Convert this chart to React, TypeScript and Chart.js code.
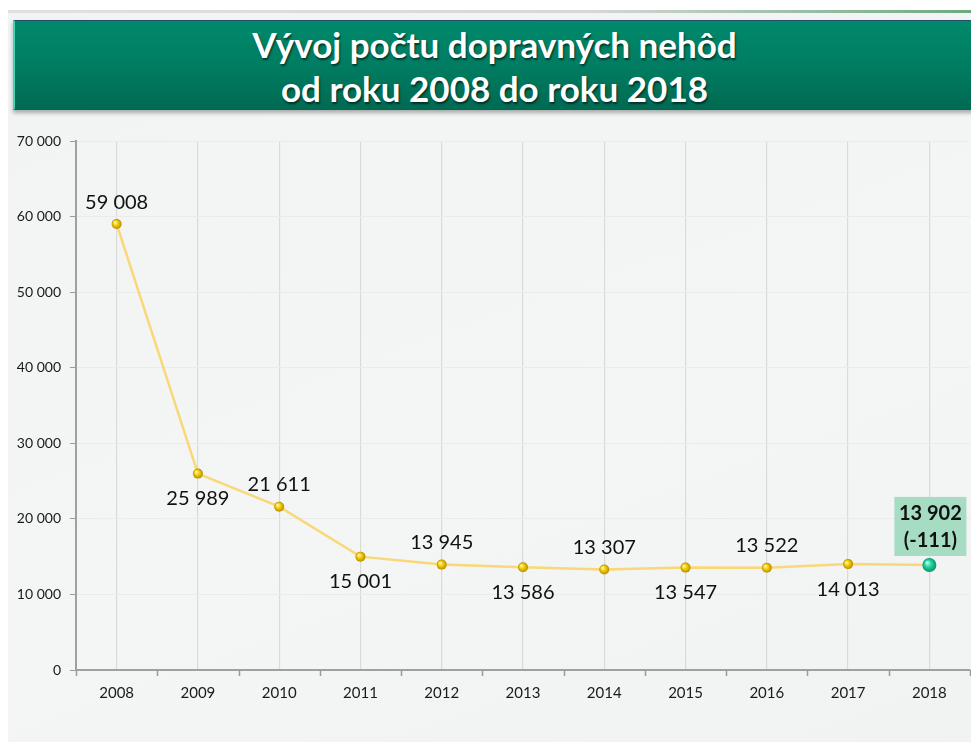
import React, { useEffect, useRef } from "react";
import { Chart, registerables } from "chart.js";

Chart.register(...registerables);

const years = ["2008", "2009", "2010", "2011", "2012", "2013", "2014", "2015", "2016", "2017", "2018"];
const accidents = [59008, 25989, 21611, 15001, 13945, 13586, 13307, 13547, 13522, 14013, 13902];
const labelAbove = [true, false, true, false, true, false, true, false, true, false, true];
const lastChange = "(-111)";
const titleLines = ["Vývoj počtu dopravných nehôd", "od roku 2008 do roku 2018"];
const yMin = 0;
const yMax = 70000;
const yStep = 10000;

const fmt = (v: number) => String(v).replace(/\B(?=(\d{3})+(?!\d))/g, " ");
const FONT = "Lato, 'Open Sans', sans-serif";

const boundaryTicks = {
  id: "boundaryTicks",
  afterDraw(chart: any) {
    const xs = chart.scales.x;
    const ctx = chart.ctx;
    ctx.save();
    ctx.strokeStyle = "#9a9a9a";
    ctx.lineWidth = 1.5;
    for (let i = 0; i <= years.length; i++) {
      const x = Math.round(xs.getPixelForValue(i - 0.5)) + 0.5;
      ctx.beginPath();
      ctx.moveTo(x, xs.top);
      ctx.lineTo(x, xs.top + 6);
      ctx.stroke();
    }
    ctx.restore();
  },
};

const dataLabels = {
  id: "dataLabels",
  afterDatasetsDraw(chart: any) {
    const meta = chart.getDatasetMeta(0);
    const ctx = chart.ctx;
    ctx.save();
    ctx.textAlign = "center";
    ctx.textBaseline = "middle";
    meta.data.forEach((el: any, i: number) => {
      const v = accidents[i];
      if (i === accidents.length - 1) {
        const bw = 72, bh = 59;
        const bx = el.x - bw / 2 + 1;
        const by = el.y - 9 - bh;
        ctx.fillStyle = "#a6dcc2";
        ctx.fillRect(bx, by, bw, bh);
        ctx.fillStyle = "#111";
        ctx.font = `bold 20px ${FONT}`;
        ctx.fillText(fmt(v), el.x + 1, by + 17);
        ctx.fillText(lastChange, el.x + 1, by + 44);
        return;
      }
      ctx.fillStyle = "#111";
      ctx.font = `20px ${FONT}`;
      const dy = labelAbove[i] ? -22 : 25;
      ctx.fillText(fmt(v), el.x, el.y + dy);
    });
    ctx.restore();
  },
};

function pointFill(context: any) {
  const chart = context.chart;
  const xs = chart.scales.x;
  const ys = chart.scales.y;
  const i = context.dataIndex;
  if (!xs || !ys || i === undefined) return "#f0c400";
  const x = xs.getPixelForValue(i);
  const y = ys.getPixelForValue(accidents[i]);
  const last = i === accidents.length - 1;
  const r = last ? 7 : 5;
  if (!isFinite(x) || !isFinite(y)) return last ? "#1ccf9e" : "#f0c400";
  const g = chart.ctx.createRadialGradient(x - r * 0.35, y - r * 0.35, 0.5, x, y, r);
  if (last) {
    g.addColorStop(0, "#b6ffe9");
    g.addColorStop(0.45, "#22d3a2");
    g.addColorStop(1, "#08926c");
  } else {
    g.addColorStop(0, "#fff6a8");
    g.addColorStop(0.45, "#f3cc00");
    g.addColorStop(1, "#b58c00");
  }
  return g;
}

function ChartView() {
  const ref = useRef<HTMLCanvasElement | null>(null);
  useEffect(() => {
    if (!ref.current) return;
    const chart = new Chart(ref.current, {
      type: "line",
      data: {
        labels: years,
        datasets: [
          {
            data: accidents,
            borderColor: "#f8d878",
            borderWidth: 2.5,
            tension: 0,
            pointRadius: (c: any) => (c.dataIndex === accidents.length - 1 ? 7 : 5),
            pointBackgroundColor: pointFill,
            pointBorderWidth: 0,
            pointBorderColor: "rgba(0,0,0,0)",
          },
        ],
      },
      options: {
        animation: false,
        responsive: true,
        maintainAspectRatio: false,
        layout: { padding: { top: 26, right: 9, left: 0, bottom: 0 } },
        plugins: { legend: { display: false }, tooltip: { enabled: false }, title: { display: false } },
        scales: {
          x: {
            offset: true,
            grid: { offset: false, color: "#dadada", lineWidth: 1.2, drawTicks: false },
            border: { color: "#a0a0a0", width: 2 },
            ticks: { padding: 14, color: "#1a1a1a", font: { family: FONT, size: 15 } },
            afterFit: (s: any) => {
              s.height = 72;
            },
          },
          y: {
            min: yMin,
            max: yMax,
            ticks: {
              stepSize: yStep,
              padding: 9,
              color: "#1a1a1a",
              font: { family: FONT, size: 14 },
              callback: (v: any) => fmt(Number(v)),
            },
            grid: { color: "#ebebeb", tickColor: "#9a9a9a", tickLength: 6, lineWidth: 1 },
            border: { color: "#a0a0a0", width: 2 },
            afterFit: (s: any) => {
              s.width = 68;
            },
          },
        },
      },
      plugins: [boundaryTicks, dataLabels],
    });
    return () => chart.destroy();
  }, []);
  return <canvas ref={ref} />;
}

export default function App() {
  return (
    <div style={{ position: "relative", width: 971, height: 734, overflow: "hidden", fontFamily: FONT }}>
      <div
        style={{
          position: "absolute",
          top: 2,
          left: 0,
          width: 971,
          height: 732,
          background: "linear-gradient(160deg, #f2f3f3 0%, #f4f5f5 60%, #f1f2f2 100%)",
        }}
      />
      <div
        style={{
          position: "absolute",
          top: 2,
          left: 0,
          width: 971,
          height: 3,
          background: "linear-gradient(90deg, #e0e0e0 0%, #d6d8d6 60%, #6aa87e 100%)",
        }}
      />
      <div
        style={{
          position: "absolute",
          top: 12,
          left: 5,
          width: 970,
          height: 90,
          background: "linear-gradient(180deg, #00896b 0%, #007d62 50%, #006a52 100%)",
          border: "1.5px solid #24506a",
          borderLeft: "2px solid #3fd6b8",
          boxShadow: "0 3px 4px rgba(0,0,0,0.3)",
          color: "#fff",
          textAlign: "center",
          fontWeight: 700,
          fontSize: 35,
          lineHeight: "44px",
          paddingTop: 1,
          textShadow: "1px 2px 2px rgba(0,0,0,0.55)",
          boxSizing: "border-box",
        }}
      >
        <div style={{ marginLeft: -8 }}>{titleLines[0]}</div>
        <div style={{ marginLeft: -8 }}>{titleLines[1]}</div>
      </div>
      <div style={{ position: "absolute", top: 107, left: 0, width: 971, height: 627 }}>
        <ChartView />
      </div>
    </div>
  );
}
